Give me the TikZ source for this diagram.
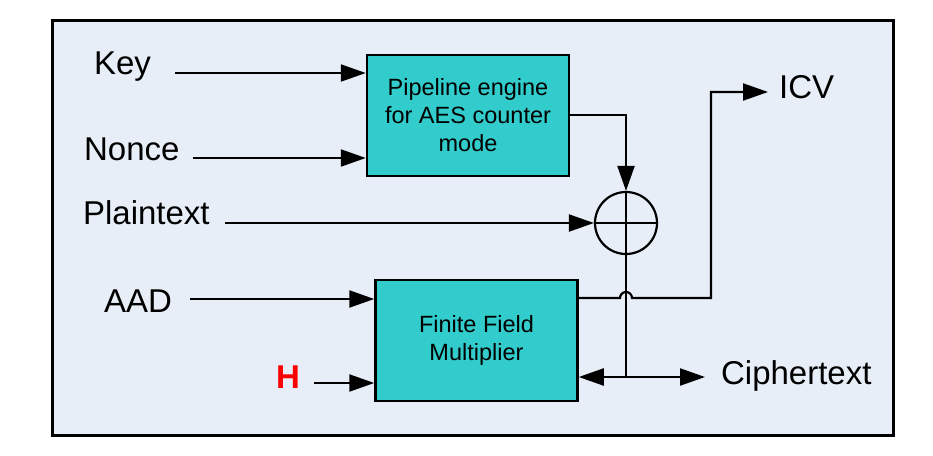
\documentclass[tikz,border=0pt]{standalone}
\usepackage{fontspec}
\setmainfont{Liberation Sans}
\usetikzlibrary{arrows.meta,positioning}
\definecolor{framebg}{RGB}{232,238,248}
\definecolor{blockfill}{RGB}{51,204,204}
\tikzset{
  block/.style={draw, line width=2.5pt, fill=blockfill, minimum width=202pt,
    minimum height=121pt, align=center, font=\fontsize{23.5}{28}\selectfont},
  lbl/.style={font=\fontsize{33}{36}\selectfont, inner sep=0pt, anchor=base west},
}
\begin{document}
\begin{tikzpicture}[x=1pt, y=-1pt, line width=2.2pt, >={Triangle[length=25pt,width=17pt]}]
\useasboundingbox (0,0) rectangle (933,455);
% Outer frame
\draw[line width=3pt, fill=framebg] (52,20) rectangle (893,435);

% Blocks
\node[block] (pipe) at (468,115.5) {Pipeline engine\\for AES counter\\mode};
\node[block] (ffm) at (476.5,340.5) {Finite Field\\Multiplier};
\node[draw, circle, line width=2.2pt, minimum size=62pt, inner sep=0pt] (xor) at (626,223) {};
\draw (xor.north) -- (xor.south) (xor.west) -- (xor.east);

% Labels
\node[lbl] (key) at (93,74) {Key};
\node[lbl] (nonce) at (83,160) {Nonce};
\node[lbl] (plain) at (82,224) {Plaintext};
\node[lbl] (aad) at (103,312) {AAD};
\node[lbl, red, font=\fontsize{33}{36}\selectfont\bfseries] (hkey) at (275,388) {H};
\node[lbl] (icv) at (778,98) {ICV};
\node[lbl] (cipher) at (720,384) {Ciphertext};

% Connector end points
\coordinate (keysrc) at (175,73);
\coordinate (noncesrc) at (193,158);
\coordinate (plainsrc) at (225,223);
\coordinate (aadsrc) at (190,299);
\coordinate (hsrc) at (314,383);
\coordinate (pipeout) at (pipe.east |- 0,115);
\coordinate (ffmout) at (ffm.east |- 0,298);
\coordinate (tap) at (626,377);
\coordinate (cipherend) at (705,377);
\coordinate (icvup) at (711,92);
\coordinate (icvend) at (768,92);

% Inputs
\draw[->] (keysrc) -- (keysrc -| pipe.west);
\draw[->] (noncesrc) -- (noncesrc -| pipe.west);
\draw[->] (plainsrc) -- (xor.west);
\draw[->] (aadsrc) -- (aadsrc -| ffm.west);
\draw[->] (hsrc) -- (hsrc -| ffm.west);

% Keystream into XOR, result down to ciphertext
\draw[->] (pipeout) -| (xor.north);
\draw (xor.south) -- (tap);
\draw[<->] (tap -| ffm.east) -- (cipherend);

% Tag output, hopping over the ciphertext line
\draw[->] (ffmout) -- ([xshift=-6pt]ffmout -| xor) arc[start angle=180, end angle=0, radius=6pt]
  -- (icvup |- ffmout) -- (icvup) -- (icvend);
\end{tikzpicture}
\end{document}
